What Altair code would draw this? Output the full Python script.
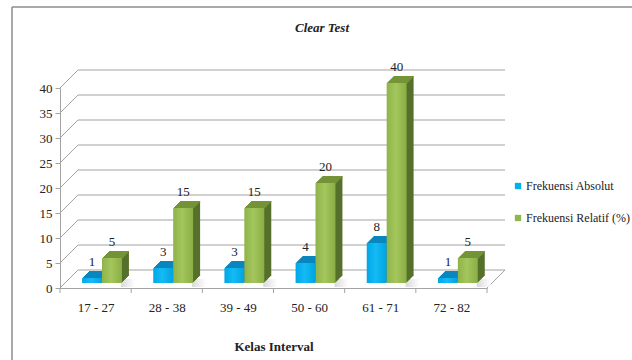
import altair as alt
import pandas as pd

# ---------------- data ----------------
categories = ["17 - 27", "28 - 38", "39 - 49", "50 - 60", "61 - 71", "72 - 82"]
frek_absolut = [1, 3, 3, 4, 8, 1]
frek_relatif = [5, 15, 15, 20, 40, 5]
series_names = ["Frekuensi Absolut", "Frekuensi Relatif (%)"]
y_ticks = [0, 5, 10, 15, 20, 25, 30, 35, 40]
chart_title = "Clear Test"
x_title = "Kelas Interval"

# ---------------- styling / layout ----------------
FONT = "'Liberation Serif', 'Times New Roman', 'DejaVu Serif', serif"
GRID = "#A3A3A3"
DEPTH = 18      # floor / wall depth in px
F = 5           # bar front offset (px)
D = 7           # bar depth (px)
W, H = 427, 200

rows = []
for i, c in enumerate(categories):
    rows.append({"cat": c, "idx": i, "series": series_names[0], "value": frek_absolut[i]})
    rows.append({"cat": c, "idx": i, "series": series_names[1], "value": frek_relatif[i]})
bars_df = pd.DataFrame(rows)
ticks_df = pd.DataFrame({"v": y_ticks})
bounds_df = pd.DataFrame({"b": list(range(len(categories) + 1))})
one = pd.DataFrame({"a": [0]})

n = len(categories)
xs = alt.Scale(domain=[0, n], nice=False, zero=False)
ys = alt.Scale(domain=[0, 40], nice=False)

label_expr = "[" + ",".join("'" + c + "'" for c in categories) + "][floor(datum.value)]"

ax_x = alt.Axis(
    values=[i + 0.5 for i in range(n)], labelExpr=label_expr, ticks=False,
    domain=True, domainColor=GRID, grid=False, labelAngle=0, labelPadding=13,
    labelFont=FONT, labelFontSize=13, labelColor="#222",
    title=x_title, titleFont=FONT, titleFontSize=13, titleFontWeight="bold",
    titleColor="#222", titlePadding=26)
ax_y = alt.Axis(
    values=y_ticks, grid=False, domainColor=GRID, tickColor=GRID, tickSize=5,
    labelPadding=3, labelFont=FONT, labelFontSize=13, labelColor="#222", title=None)


def X(field):
    return alt.X(field, scale=xs, axis=ax_x)


def Y(field):
    return alt.Y(field, scale=ys, axis=ax_y)


# back wall gridlines
grid = alt.Chart(ticks_df).mark_rule(
    color=GRID, strokeWidth=1, xOffset=DEPTH, x2Offset=DEPTH, yOffset=-DEPTH
).transform_calculate(xa="0", xb=str(n)).encode(
    x=X("xa:Q"), x2="xb:Q", y=Y("v:Q"),
)

# side-wall diagonals
diag = alt.Chart(ticks_df).mark_rule(
    color=GRID, strokeWidth=1, x2Offset=DEPTH, y2Offset=-DEPTH
).transform_calculate(xa="0").encode(
    x=X("xa:Q"), x2="xa:Q", y=Y("v:Q"), y2="v:Q",
)

# floor right edge
floor_r = alt.Chart(one).mark_rule(
    color=GRID, strokeWidth=1, x2Offset=DEPTH, y2Offset=-DEPTH
).transform_calculate(xa=str(n), ya="0").encode(
    x=X("xa:Q"), x2="xa:Q", y=Y("ya:Q"), y2="ya:Q")

# category boundary ticks
bticks = alt.Chart(bounds_df).mark_rule(color=GRID, strokeWidth=1, y2Offset=5).transform_calculate(
    ya="0").encode(x=X("b:Q"), y=Y("ya:Q"), y2="ya:Q")

# outer frame
frame_v = alt.Chart(one).mark_rule(color="#8C8C8C", strokeWidth=1.5).encode(
    x=alt.value(-48), y=alt.value(-81), y2=alt.value(H + 80))
frame_h = alt.Chart(one).mark_rule(color="#8C8C8C", strokeWidth=1.5).encode(
    x=alt.value(-48), x2=alt.value(W + 160), y=alt.value(-81))

# chart title (text mark)
title_layer = alt.Chart(one).mark_text(
    text=chart_title, font=FONT, fontSize=13, fontStyle="italic", fontWeight="bold",
    color="#222", align="center", baseline="middle"
).encode(x=alt.value(262), y=alt.value(-60))

# soft floor shadows to the right of each bar pair
shadow_fill = alt.Gradient(
    gradient="linear", x1=0, x2=1, y1=0, y2=0,
    stops=[alt.GradientStop(color="#CFCFCF", offset=0),
           alt.GradientStop(color="#E8E8E8", offset=0.5),
           alt.GradientStop(color="#FFFFFF", offset=1)])
shadow = alt.Chart(bars_df).transform_filter(
    alt.datum.series == series_names[1]
).transform_calculate(x1="datum.idx + 0.80", zero="0").mark_rect(
    fill=shadow_fill, opacity=0.8, xOffset=F - 1, x2Offset=F + D + 6,
    yOffset=-F - 4, y2Offset=-1
).encode(x=X("x1:Q"), x2="x1:Q", y=Y("zero:Q"), y2="zero:Q")


def grad(c_left, c_mid, c_right):
    return alt.Gradient(
        gradient="linear", x1=0, x2=1, y1=0, y2=0,
        stops=[alt.GradientStop(color=c_left, offset=0),
               alt.GradientStop(color=c_mid, offset=0.45),
               alt.GradientStop(color=c_right, offset=1)])


def bar_layers(series, front, top_col, side_col, f0, f1):
    base = alt.Chart(bars_df).transform_filter(
        alt.datum.series == series
    ).transform_calculate(
        x0=f"datum.idx + {f0}", x1=f"datum.idx + {f1}", xc=f"datum.idx + {(f0 + f1) / 2}",
        zero="0"
    )
    enc = dict(x=X("x0:Q"), x2="x1:Q", y=Y("value:Q"), y2="zero:Q")
    out = []
    for k in range(1, D + 1):
        out.append(base.mark_rect(color=side_col, xOffset=F + k, x2Offset=F + k,
                                  yOffset=-F - k, y2Offset=-F - k).encode(**enc))
    for k in range(1, D + 1):
        out.append(base.mark_rect(color=top_col, xOffset=F + k, x2Offset=F + k,
                                  yOffset=-F - k, y2Offset=-F - k + 1.4).encode(
            x=X("x0:Q"), x2="x1:Q", y=Y("value:Q"), y2="value:Q"))
    out.append(base.mark_rect(fill=front, xOffset=F, x2Offset=F,
                              yOffset=-F, y2Offset=-F).encode(**enc))
    out.append(base.mark_text(font=FONT, fontSize=13, color="#222", baseline="middle",
                              dx=F, dy=-F - 16).encode(
        x=X("xc:Q"), y=Y("value:Q"), text="value:Q"))
    return out


blue_layers = bar_layers(series_names[0], grad("#00A6E6", "#14BBF5", "#00A2E0"),
                         "#0A86BE", "#006E9C", 0.24, 0.52)
green_layers = bar_layers(series_names[1], grad("#8FB24A", "#A3C75C", "#8AAE45"),
                          "#759438", "#55702A", 0.52, 0.80)

legend_layer = alt.Chart(bars_df).mark_square(opacity=0, size=1).transform_calculate(
    zero="0").encode(
    x=X("zero:Q"), y=Y("zero:Q"),
    color=alt.Color("series:N", scale=alt.Scale(domain=series_names,
                                                range=["#00B0F0", "#92B64E"]),
                    legend=alt.Legend(
                        orient="none", legendX=452, legendY=92, title=None,
                        symbolType="square", symbolSize=40, symbolOpacity=1,
                        symbolStrokeWidth=0, labelFont=FONT, labelFontSize=12,
                        labelColor="#222", rowPadding=20, labelOffset=2, padding=0)),
)

chart = alt.layer(
    frame_v, frame_h, title_layer, grid, diag, floor_r, bticks, shadow,
    *blue_layers, *green_layers, legend_layer
).properties(
    width=W, height=H,
    autosize=alt.AutoSizeParams(type="none"),
    padding={"left": 60, "top": 88, "right": 145, "bottom": 72},
    background="white",
).configure_view(stroke=None)

chart.save("out.html", embed_options={"renderer": "svg", "actions": False})
